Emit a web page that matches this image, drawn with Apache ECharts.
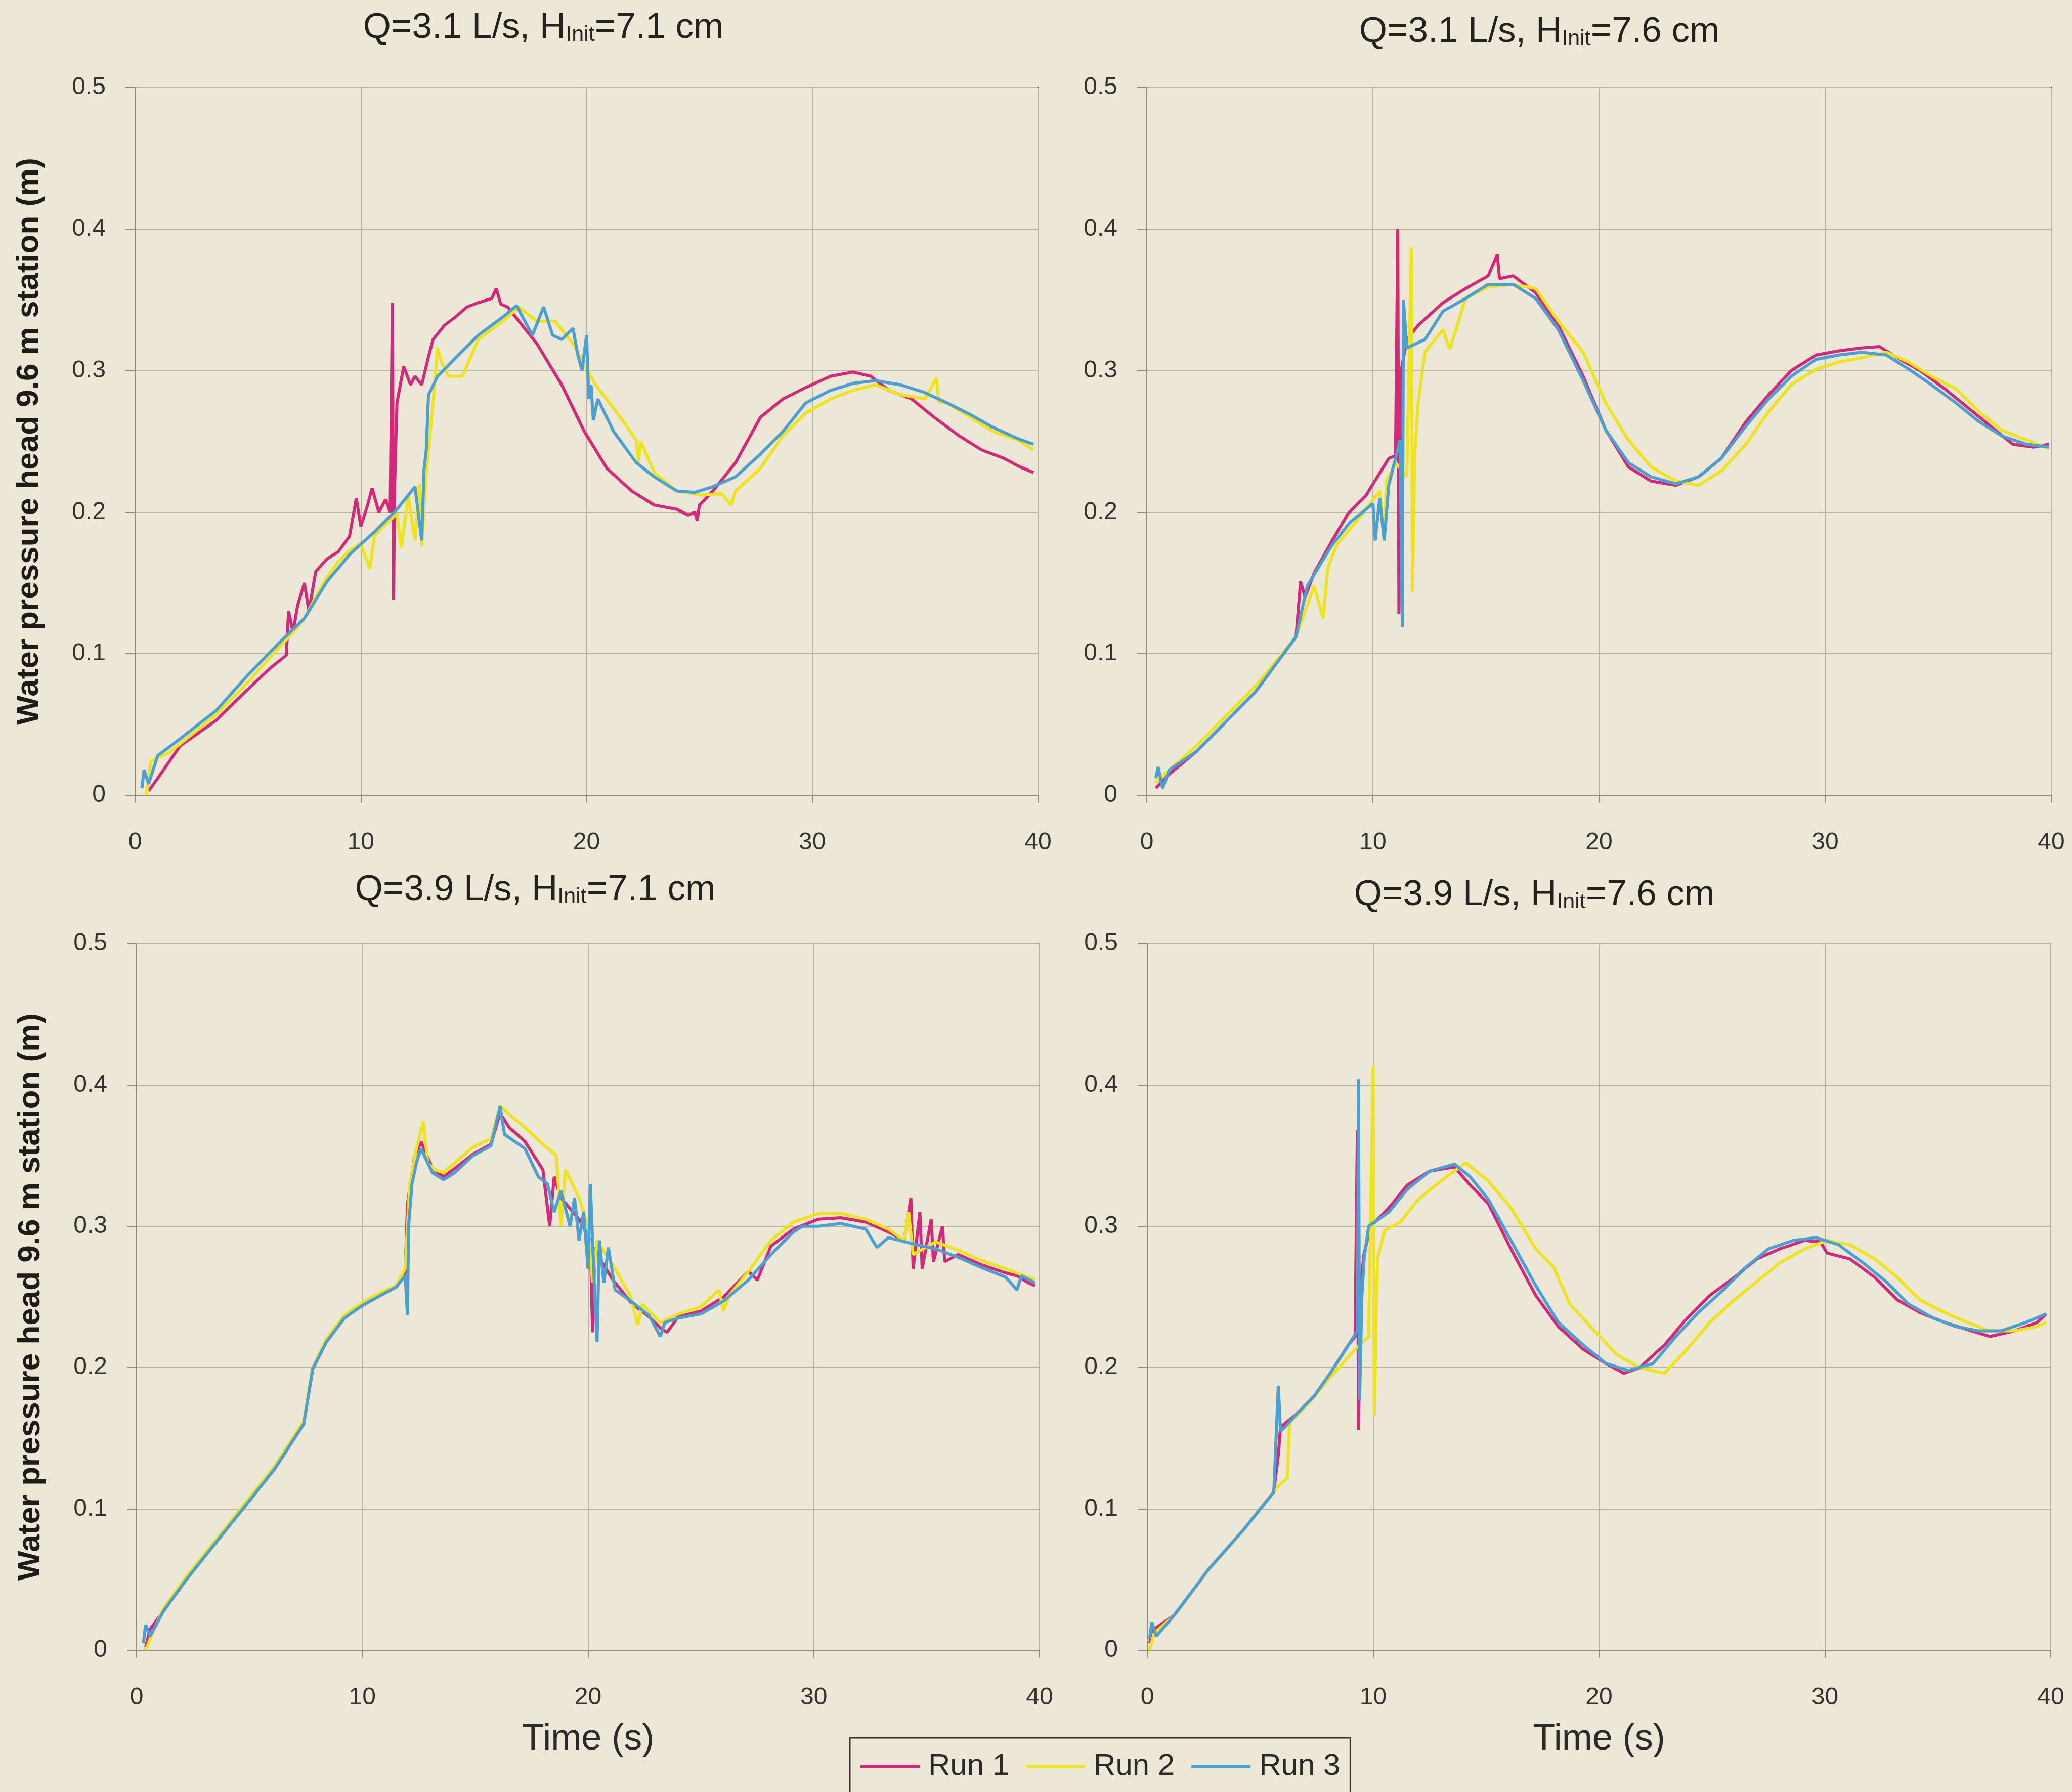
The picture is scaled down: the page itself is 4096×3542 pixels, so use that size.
<!DOCTYPE html>
<html>
<head>
<meta charset="utf-8">
<script src="https://cdn.jsdelivr.net/npm/echarts@6/dist/echarts.min.js"></script>
<style>
  html, body { margin: 0; padding: 0; background: #ECE7D6; }
  #main { width: 4096px; height: 3542px; }
</style>
</head>
<body>
<div id="main"></div>
<script>
// time (s), water pressure head (m)
var runNames = ['Run 1', 'Run 2', 'Run 3'];
var runColors = ['#D3297B', '#EFE31C', '#4C9FD2'];
var panelTitles = ['Q=3.1 L/s, H{sub|Init}=7.1 cm', 'Q=3.1 L/s, H{sub|Init}=7.6 cm',
                   'Q=3.9 L/s, H{sub|Init}=7.1 cm', 'Q=3.9 L/s, H{sub|Init}=7.6 cm'];
var yTicks = ['0', '0.1', '0.2', '0.3', '0.4', '0.5'];

// Q=3.1, H=7.1
var tlRun1 = [[0.6,0.003],[1.0,0.012],[2.0,0.035],[3.6,0.053],[5.0,0.075],[6.0,0.09],[6.7,0.099],[6.8,0.13],[7.0,0.115],[7.2,0.134],[7.5,0.15],[7.7,0.13],[8.0,0.158],[8.5,0.167],[9.0,0.172],[9.5,0.183],[9.8,0.21],[10.0,0.19],[10.3,0.205],[10.5,0.217],[10.8,0.2],[11.1,0.209],[11.3,0.2],[11.4,0.348],[11.45,0.138],[11.5,0.22],[11.6,0.277],[11.9,0.303],[12.2,0.29],[12.4,0.296],[12.7,0.29],[13.0,0.31],[13.2,0.322],[13.7,0.332],[14.2,0.338],[14.7,0.345],[15.2,0.348],[15.8,0.351],[16.0,0.358],[16.2,0.347],[16.5,0.345],[17.0,0.335],[17.8,0.319],[18.9,0.29],[19.9,0.257],[20.9,0.231],[22.0,0.215],[23.0,0.205],[24.0,0.202],[24.5,0.198],[24.8,0.2],[24.9,0.194],[25.0,0.205],[25.6,0.215],[26.6,0.235],[27.7,0.267],[28.7,0.28],[29.7,0.288],[30.8,0.296],[31.8,0.299],[32.6,0.296],[33.4,0.286],[34.4,0.28],[35.4,0.267],[36.5,0.254],[37.5,0.244],[38.5,0.238],[39.2,0.232],[39.8,0.228]];
var tlRun2 = [[0.5,0.0],[0.7,0.024],[1.5,0.03],[3.6,0.057],[5.0,0.08],[6.4,0.105],[7.0,0.115],[7.5,0.125],[8.0,0.14],[8.5,0.154],[9.0,0.165],[9.5,0.173],[10.0,0.178],[10.4,0.16],[10.6,0.183],[11.0,0.19],[11.6,0.199],[11.8,0.175],[12.1,0.212],[12.4,0.18],[12.6,0.22],[12.7,0.176],[12.9,0.228],[13.2,0.277],[13.4,0.316],[13.6,0.305],[13.9,0.296],[14.5,0.296],[15.2,0.322],[16.3,0.335],[17.0,0.345],[17.8,0.335],[18.6,0.335],[19.4,0.319],[20.4,0.29],[21.5,0.267],[22.2,0.251],[22.3,0.235],[22.4,0.25],[23.0,0.228],[24.0,0.215],[25.1,0.212],[26.0,0.213],[26.4,0.205],[26.6,0.215],[27.7,0.231],[28.7,0.254],[29.7,0.27],[30.8,0.28],[31.8,0.286],[32.8,0.29],[33.9,0.283],[35.0,0.28],[35.5,0.295],[35.6,0.278],[36.0,0.277],[37.0,0.267],[38.0,0.257],[39.1,0.251],[39.8,0.244]];
var tlRun3 = [[0.3,0.005],[0.4,0.018],[0.6,0.008],[1.0,0.028],[2.0,0.04],[3.6,0.06],[5.0,0.085],[6.4,0.108],[7.5,0.125],[8.5,0.151],[9.5,0.17],[10.6,0.186],[11.6,0.202],[12.4,0.218],[12.7,0.18],[12.8,0.23],[12.9,0.244],[13.0,0.283],[13.4,0.296],[14.2,0.309],[15.2,0.325],[16.3,0.338],[16.9,0.346],[17.6,0.325],[18.1,0.345],[18.5,0.325],[18.9,0.322],[19.4,0.33],[19.6,0.312],[19.8,0.3],[20.0,0.325],[20.1,0.28],[20.2,0.29],[20.3,0.265],[20.5,0.28],[21.2,0.257],[22.2,0.235],[23.0,0.225],[24.0,0.215],[24.8,0.214],[25.6,0.218],[26.6,0.225],[27.7,0.241],[28.7,0.257],[29.7,0.277],[30.8,0.286],[31.8,0.291],[32.8,0.293],[33.9,0.29],[34.9,0.285],[36.0,0.277],[37.0,0.269],[38.0,0.26],[39.1,0.252],[39.8,0.248]];

// Q=3.1, H=7.6
var trRun1 = [[0.4,0.005],[1.0,0.015],[2.2,0.031],[3.5,0.052],[4.8,0.073],[6.6,0.112],[6.8,0.151],[7.0,0.14],[7.4,0.157],[8.2,0.18],[8.9,0.199],[9.7,0.212],[10.2,0.225],[10.7,0.238],[11.0,0.24],[11.1,0.4],[11.15,0.128],[11.25,0.3],[11.5,0.322],[12.0,0.332],[13.1,0.348],[14.1,0.358],[15.1,0.367],[15.5,0.382],[15.6,0.365],[16.2,0.367],[17.2,0.355],[18.2,0.332],[19.3,0.296],[20.3,0.258],[21.3,0.232],[22.3,0.222],[23.4,0.219],[24.4,0.225],[25.4,0.238],[26.5,0.264],[27.5,0.283],[28.5,0.3],[29.6,0.311],[30.6,0.314],[31.6,0.316],[32.4,0.317],[33.2,0.309],[34.2,0.3],[35.3,0.287],[36.3,0.274],[37.3,0.261],[38.3,0.248],[39.2,0.246],[39.9,0.248]];
var trRun2 = [[0.4,0.009],[1.0,0.018],[2.2,0.035],[3.5,0.056],[4.8,0.077],[6.6,0.112],[7.4,0.148],[7.8,0.125],[8.0,0.16],[8.4,0.177],[9.4,0.196],[10.3,0.215],[10.5,0.18],[10.6,0.222],[11.0,0.235],[11.5,0.225],[11.7,0.387],[11.75,0.144],[11.85,0.24],[12.0,0.277],[12.3,0.313],[13.1,0.329],[13.4,0.315],[14.1,0.351],[15.1,0.359],[16.2,0.361],[17.2,0.358],[18.2,0.335],[19.3,0.313],[20.3,0.277],[21.3,0.251],[22.3,0.232],[23.4,0.222],[24.4,0.219],[25.4,0.229],[26.5,0.248],[27.5,0.271],[28.5,0.29],[29.6,0.301],[30.6,0.306],[31.6,0.309],[32.7,0.313],[33.7,0.306],[34.7,0.296],[35.8,0.287],[36.8,0.271],[37.8,0.258],[38.9,0.251],[39.9,0.245]];
var trRun3 = [[0.4,0.012],[0.5,0.02],[0.7,0.005],[1.0,0.018],[2.2,0.031],[4.8,0.073],[6.6,0.112],[7.1,0.148],[8.2,0.177],[9.0,0.193],[10.0,0.206],[10.1,0.18],[10.3,0.21],[10.5,0.18],[10.7,0.219],[11.2,0.251],[11.3,0.119],[11.35,0.35],[11.5,0.316],[12.3,0.322],[13.1,0.342],[14.1,0.351],[15.1,0.361],[16.2,0.361],[17.2,0.351],[18.2,0.329],[19.3,0.293],[20.3,0.258],[21.3,0.235],[22.3,0.225],[23.4,0.22],[24.4,0.225],[25.4,0.238],[26.5,0.261],[27.5,0.28],[28.5,0.296],[29.6,0.308],[30.6,0.311],[31.6,0.313],[32.7,0.311],[33.7,0.301],[34.7,0.29],[35.8,0.277],[36.8,0.264],[37.8,0.254],[38.9,0.248],[39.9,0.246]];

// Q=3.9, H=7.1
var blRun1 = [[0.4,0.002],[0.6,0.015],[1.2,0.028],[2.2,0.05],[3.5,0.076],[4.8,0.102],[6.1,0.128],[7.4,0.16],[7.5,0.17],[7.8,0.199],[8.4,0.218],[9.2,0.235],[10.0,0.244],[10.8,0.251],[11.5,0.257],[11.9,0.267],[12.0,0.316],[12.3,0.348],[12.6,0.36],[13.1,0.341],[13.6,0.335],[14.1,0.341],[14.9,0.351],[15.7,0.358],[16.1,0.38],[16.5,0.37],[17.2,0.36],[18.0,0.34],[18.3,0.3],[18.5,0.335],[18.8,0.32],[19.6,0.305],[20.1,0.29],[20.2,0.225],[20.3,0.285],[20.6,0.275],[21.1,0.262],[21.9,0.246],[22.7,0.236],[23.2,0.228],[23.5,0.225],[24.0,0.236],[25.0,0.24],[26.0,0.25],[27.1,0.268],[27.5,0.262],[28.1,0.286],[29.1,0.298],[30.2,0.305],[31.2,0.306],[32.3,0.303],[33.3,0.296],[34.0,0.29],[34.3,0.32],[34.4,0.27],[34.7,0.31],[34.8,0.27],[35.2,0.305],[35.3,0.275],[35.7,0.3],[35.8,0.275],[36.4,0.28],[37.4,0.273],[38.5,0.267],[39.0,0.265],[39.5,0.26],[39.8,0.258]];
var blRun2 = [[0.4,0.0],[0.7,0.012],[1.2,0.03],[2.2,0.052],[3.5,0.078],[4.8,0.104],[6.1,0.13],[7.4,0.162],[7.8,0.2],[8.4,0.22],[9.2,0.237],[10.0,0.246],[10.8,0.253],[11.5,0.258],[11.9,0.27],[12.1,0.33],[12.4,0.355],[12.7,0.374],[12.9,0.345],[13.2,0.34],[13.6,0.338],[14.1,0.345],[14.9,0.356],[15.7,0.362],[16.1,0.385],[16.6,0.378],[17.2,0.37],[18.0,0.358],[18.6,0.35],[18.8,0.3],[19.0,0.34],[19.6,0.32],[20.0,0.3],[20.2,0.26],[20.4,0.29],[20.8,0.28],[21.2,0.27],[21.9,0.25],[22.2,0.23],[22.4,0.245],[22.7,0.24],[23.2,0.232],[24.0,0.238],[25.0,0.243],[25.8,0.255],[26.0,0.24],[26.3,0.252],[27.1,0.268],[28.1,0.29],[29.1,0.303],[30.2,0.309],[31.2,0.309],[32.3,0.305],[33.3,0.298],[34.0,0.29],[34.2,0.31],[34.4,0.28],[35.4,0.289],[36.4,0.283],[37.4,0.276],[38.5,0.27],[39.5,0.264],[39.8,0.262]];
var blRun3 = [[0.3,0.005],[0.4,0.018],[0.6,0.01],[1.2,0.028],[2.2,0.05],[3.5,0.076],[4.8,0.102],[6.1,0.128],[7.4,0.16],[7.8,0.199],[8.4,0.218],[9.2,0.235],[10.0,0.244],[10.8,0.251],[11.5,0.257],[11.9,0.265],[12.0,0.237],[12.05,0.3],[12.2,0.33],[12.4,0.345],[12.6,0.355],[13.1,0.338],[13.6,0.333],[14.1,0.338],[14.9,0.35],[15.7,0.357],[16.1,0.385],[16.3,0.365],[17.2,0.355],[17.8,0.335],[18.2,0.33],[18.5,0.31],[18.8,0.325],[19.2,0.3],[19.4,0.32],[19.6,0.29],[19.8,0.31],[20.0,0.27],[20.1,0.33],[20.3,0.25],[20.4,0.218],[20.5,0.29],[20.7,0.26],[20.9,0.285],[21.2,0.255],[21.9,0.247],[22.7,0.237],[23.2,0.222],[23.4,0.232],[24.0,0.235],[25.0,0.238],[26.0,0.247],[27.1,0.262],[28.1,0.28],[29.1,0.296],[29.5,0.3],[30.2,0.3],[31.2,0.302],[32.3,0.298],[32.8,0.285],[33.3,0.292],[34.3,0.288],[35.4,0.284],[36.4,0.278],[37.4,0.271],[38.5,0.264],[39.0,0.255],[39.2,0.265],[39.8,0.26]];

// Q=3.9, H=7.6
var brRun1 = [[0.1,0.005],[0.3,0.015],[1.2,0.025],[2.7,0.057],[4.3,0.086],[5.6,0.112],[5.8,0.138],[5.9,0.158],[6.6,0.167],[7.4,0.18],[8.1,0.196],[8.9,0.216],[9.2,0.222],[9.3,0.368],[9.35,0.156],[9.45,0.26],[9.6,0.281],[9.9,0.3],[10.7,0.313],[11.5,0.329],[12.5,0.339],[13.6,0.342],[14.3,0.329],[15.1,0.316],[16.1,0.284],[17.2,0.251],[18.2,0.229],[19.3,0.213],[20.3,0.203],[21.1,0.196],[21.8,0.2],[22.9,0.216],[23.9,0.235],[24.9,0.251],[26.0,0.264],[27.0,0.277],[28.0,0.284],[29.1,0.29],[29.8,0.289],[30.1,0.281],[31.1,0.277],[32.2,0.264],[33.2,0.248],[34.2,0.239],[35.3,0.232],[36.3,0.227],[37.3,0.222],[38.4,0.226],[39.4,0.232],[39.8,0.238]];
var brRun2 = [[0.1,0.0],[0.3,0.012],[1.2,0.025],[2.7,0.057],[4.3,0.086],[5.8,0.116],[6.2,0.122],[6.3,0.161],[7.1,0.174],[8.1,0.193],[9.2,0.213],[9.8,0.222],[10.0,0.413],[10.05,0.166],[10.15,0.25],[10.2,0.277],[10.5,0.297],[11.2,0.303],[12.0,0.319],[13.0,0.332],[14.1,0.345],[15.1,0.332],[16.1,0.313],[17.2,0.284],[18.0,0.271],[18.7,0.245],[19.8,0.226],[20.8,0.209],[21.8,0.2],[22.9,0.196],[23.9,0.213],[24.9,0.232],[26.0,0.248],[27.0,0.261],[28.0,0.274],[29.1,0.284],[30.1,0.29],[31.1,0.287],[32.2,0.277],[33.2,0.264],[34.2,0.248],[35.3,0.239],[36.3,0.232],[37.3,0.226],[38.4,0.226],[39.4,0.229],[39.8,0.232]];
var brRun3 = [[0.1,0.008],[0.2,0.02],[0.4,0.01],[1.2,0.025],[2.7,0.057],[4.3,0.086],[5.6,0.112],[5.8,0.187],[5.9,0.155],[6.1,0.158],[6.6,0.167],[7.4,0.18],[8.1,0.196],[8.9,0.216],[9.3,0.226],[9.35,0.404],[9.4,0.177],[9.5,0.25],[9.6,0.277],[9.8,0.3],[10.7,0.31],[11.5,0.326],[12.5,0.339],[13.6,0.344],[14.3,0.335],[15.1,0.319],[16.1,0.29],[17.2,0.258],[18.2,0.232],[19.3,0.216],[20.3,0.203],[21.3,0.198],[22.4,0.203],[23.4,0.222],[24.4,0.239],[25.5,0.255],[26.5,0.271],[27.5,0.284],[28.6,0.29],[29.6,0.292],[30.6,0.287],[31.7,0.274],[32.7,0.261],[33.7,0.245],[34.8,0.235],[35.8,0.229],[36.8,0.226],[37.8,0.226],[38.9,0.232],[39.8,0.238]];

var panelData = [
  [tlRun1, tlRun2, tlRun3],
  [trRun1, trRun2, trRun3],
  [blRun1, blRun2, blRun3],
  [brRun1, brRun2, brRun3]
];

var FONT = 'Liberation Sans, Arial, sans-serif';
var myChart = echarts.init(document.getElementById('main'), null, { renderer: 'canvas' });

var grids = [
  { left: 267, top: 173, width: 1785, height: 1399 },
  { left: 2267, top: 173, width: 1788, height: 1399 },
  { left: 270, top: 1865, width: 1785, height: 1397 },
  { left: 2268, top: 1865, width: 1786, height: 1397 }
];
var titlePos = [[1074, 20], [3043, 28], [1058, 1724], [3033, 1734]];

var option = {
  backgroundColor: '#ECE7D6',
  animation: false,
  textStyle: { fontFamily: FONT },
  title: panelTitles.map(function (t, i) {
    return {
      text: t,
      left: titlePos[i][0],
      top: titlePos[i][1],
      textAlign: 'center',
      padding: 0,
      textStyle: {
        fontFamily: FONT, fontSize: 71, fontWeight: 'normal', color: '#24221e',
        rich: {
          sub: { fontFamily: FONT, fontSize: 43, color: '#24221e', verticalAlign: 'bottom', padding: [26, 0, 0, 0] }
        }
      }
    };
  }),
  legend: {
    data: runNames,
    left: 1680,
    top: 3435,
    icon: 'rect',
    itemWidth: 117,
    itemHeight: 6,
    itemGap: 33,
    padding: [26, 20, 80, 21],
    borderColor: '#333',
    borderWidth: 3,
    textStyle: { fontFamily: FONT, fontSize: 60, color: '#2a2a2a', padding: [0, 0, 0, 12] }
  },
  grid: grids.map(function (g) {
    return {
      left: g.left, top: g.top, width: g.width, height: g.height,
      show: true, borderColor: '#3c3a36', borderWidth: 2, backgroundColor: 'transparent'
    };
  }),
  xAxis: grids.map(function (g, i) {
    return {
      type: 'value',
      gridIndex: i,
      min: 0, max: 40, interval: 10,
      name: i >= 2 ? 'Time (s)' : '',
      nameLocation: 'middle',
      nameGap: 140,
      nameTextStyle: { fontFamily: FONT, fontSize: 72, color: '#2a2a2a' },
      axisLine: { lineStyle: { color: '#8f8b80', width: 2 } },
      axisTick: { show: true, length: 15, lineStyle: { color: '#8f8b80', width: 2 } },
      axisLabel: { fontFamily: FONT, fontSize: 48, color: '#333', margin: 70 },
      splitLine: { show: true, lineStyle: { color: '#b7b2a2', width: 2 } }
    };
  }),
  yAxis: grids.map(function (g, i) {
    return {
      type: 'value',
      gridIndex: i,
      min: 0, max: 0.5, interval: 0.1,
      name: (i % 2 === 0) ? 'Water pressure head 9.6 m station (m)' : '',
      nameLocation: 'middle',
      nameGap: 178,
      nameTextStyle: { fontFamily: FONT, fontSize: 62, fontWeight: 'bold', color: '#1e1c18' },
      axisLine: { show: true, lineStyle: { color: '#8f8b80', width: 2 } },
      axisTick: { show: true, length: 19, lineStyle: { color: '#8f8b80', width: 2 } },
      axisLabel: {
        fontFamily: FONT, fontSize: 48, color: '#333', margin: 58,
        formatter: function (v) { return yTicks[Math.round(v * 10)]; }
      },
      splitLine: { show: true, lineStyle: { color: '#b7b2a2', width: 2 } }
    };
  }),
  series: []
};

for (var p = 0; p < 4; p++) {
  for (var r = 0; r < 3; r++) {
    option.series.push({
      name: runNames[r],
      type: 'line',
      xAxisIndex: p,
      yAxisIndex: p,
      data: panelData[p][r],
      showSymbol: false,
      symbol: 'none',
      lineStyle: { width: 6, color: runColors[r] },
      itemStyle: { color: runColors[r] }
    });
  }
}

myChart.setOption(option);
</script>
</body>
</html>
